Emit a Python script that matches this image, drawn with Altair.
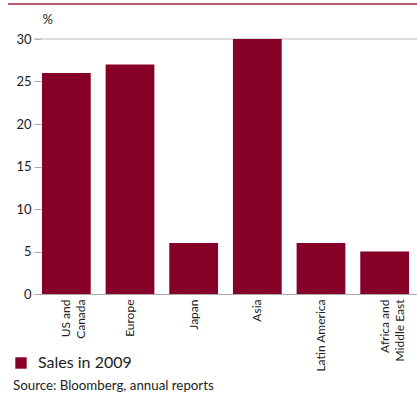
import altair as alt
import pandas as pd

regions = ["US and\nCanada", "Europe", "Japan", "Asia", "Latin America", "Africa and\nMiddle East"]
sales = [26, 27, 6, 30, 6, 5]
series = ["Sales in 2009"] * len(regions)
y_ticks = [0, 5, 10, 15, 20, 25, 30]

RED = "#870027"
FONT = "Lato"

df = pd.DataFrame({"region": regions, "value": sales, "series": series})

bars = alt.Chart(df).mark_bar(color=RED).encode(
    x=alt.X("region:N", sort=regions,
            scale=alt.Scale(paddingInner=0.234, paddingOuter=0.125),
            axis=alt.Axis(title=None, labelAngle=-90, labelAlign="right", labelBaseline="middle",
                          labelExpr="split(datum.label, '\\n')", labelLineHeight=15,
                          ticks=False, labelPadding=5, domainColor="#aaaaaa", domainWidth=1.2,
                          labelFont=FONT, labelFontSize=12, labelColor="#222222")),
    y=alt.Y("value:Q", scale=alt.Scale(domain=[0, 30]),
            axis=alt.Axis(values=y_ticks, title="%", titleAngle=0, titleX=1, titleY=-13,
                          titleFont=FONT, titleFontSize=13, titleFontWeight="normal", titleColor="#222222",
                          titleAlign="left",
                          grid=False, domain=False, tickSize=7, offset=-7, tickColor="#aaaaaa",
                          labelPadding=3, labelFont=FONT, labelFontSize=13, labelColor="#222222")),
    color=alt.Color("series:N", scale=alt.Scale(range=[RED]),
                    legend=alt.Legend(title="Source: Bloomberg, annual reports", titleOrient="bottom",
                                      orient="none", legendX=-21, legendY=316,
                                      symbolType="square", symbolSize=130, symbolStrokeWidth=0,
                                      symbolOpacity=1, labelFont=FONT, labelFontSize=16,
                                      labelColor="#222222", labelOffset=9,
                                      titleFont=FONT, titleFontSize=13.3, titleFontWeight="normal",
                                      titleColor="#222222", titlePadding=8, padding=0,
                                      titleLimit=400, labelLimit=300)),
)

top_grid = alt.Chart(pd.DataFrame({"y": [30]})).mark_rule(color="#bbbbbb", strokeWidth=1.2).encode(
    y=alt.Y("y:Q", scale=alt.Scale(domain=[0, 30]))
)

top_line = alt.Chart(pd.DataFrame({"a": [0]})).mark_rule(color="#a0203f", strokeWidth=1.5).encode(
    x=alt.value(-26), x2=alt.value(390), y=alt.value(-35)
)

chart = alt.layer(top_grid, bars, top_line).properties(
    width=383, height=255,
    autosize=alt.AutoSizeParams(type="none"),
    padding={"left": 34, "top": 39, "right": 0, "bottom": 100},
).configure_view(stroke=None)

chart.save("out.html", embed_options={"renderer": "svg", "actions": False})
